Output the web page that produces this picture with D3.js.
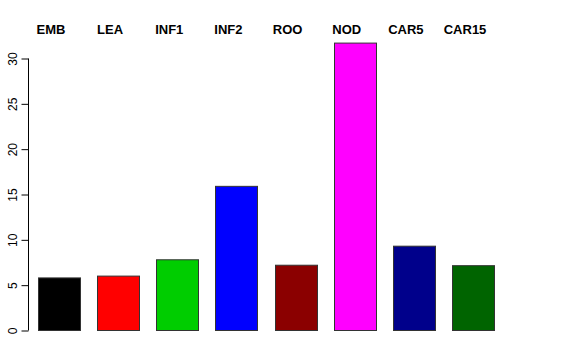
<!DOCTYPE html>
<meta charset="utf-8">
<style>
  body { margin: 0; background: #fff; }
  text { font-family: "Liberation Sans", Arial, sans-serif; }
</style>
<svg width="576" height="360"></svg>
<script src="https://cdn.jsdelivr.net/npm/d3@7"></script>
<script>
	var categories = ["EMB", "LEA", "INF1", "INF2", "ROO", "NOD", "CAR5", "CAR15"];
	var values = [5.8, 6.0, 7.8, 15.9, 7.2, 31.7, 9.3, 7.15];
	var colors = ["#000000", "#ff0000", "#00cd00", "#0000ff", "#8b0000", "#ff00ff", "#00008b", "#006400"];
	var yTicks = [0, 5, 10, 15, 20, 25, 30];

	var svg = d3.select("svg");

	var x = d3.scaleBand()
	.domain(categories)
	.range([28.5, 503.5])
	.paddingInner(0.29)
	.paddingOuter(0.16);

	var y = d3.scaleLinear()
	.domain([0, 30])
	.range([330.5, 58.5]);

	// bars
	svg.append("g").selectAll("rect")
	.data(values)
	.enter().append("rect")
	.attr("x", function(d, i) { return Math.round(x(categories[i])) + 0.5; })
	.attr("y", function(d) { return y(d); })
	.attr("width", Math.round(x.bandwidth()))
	.attr("height", function(d) { return y(0) - y(d); })
	.style("fill", function(d, i) { return colors[i]; })
	.style("stroke", "#333")
	.style("stroke-width", 1);

	// y axis, R style
	var axis = svg.append("g")
	.attr("transform", "translate(28.5,0)")
	.call(d3.axisLeft(y).tickValues(yTicks).tickSize(7));
	axis.select(".domain").attr("d", "M0," + y(30) + "V" + y(0)).style("stroke", "#000");
	axis.selectAll(".tick line").style("stroke", "#000");
	axis.selectAll(".tick text")
	.style("font-size", "12px")
	.style("font-family", "Liberation Sans, Arial, sans-serif")
	.attr("fill", "#000")
	.attr("x", 0)
	.attr("y", 0)
	.attr("dy", 0)
	.attr("text-anchor", "middle")
	.attr("transform", "translate(-11.5,0) rotate(-90)");

	// category labels across the top
	svg.append("g").selectAll("text")
	.data(categories)
	.enter().append("text")
	.attr("x", function(d) { return x(d) + x.bandwidth() / 2 - 8; })
	.attr("y", 34)
	.attr("text-anchor", "middle")
	.style("font-size", "13px")
	.style("font-weight", "bold")
	.text(function(d) { return d; });
</script>
